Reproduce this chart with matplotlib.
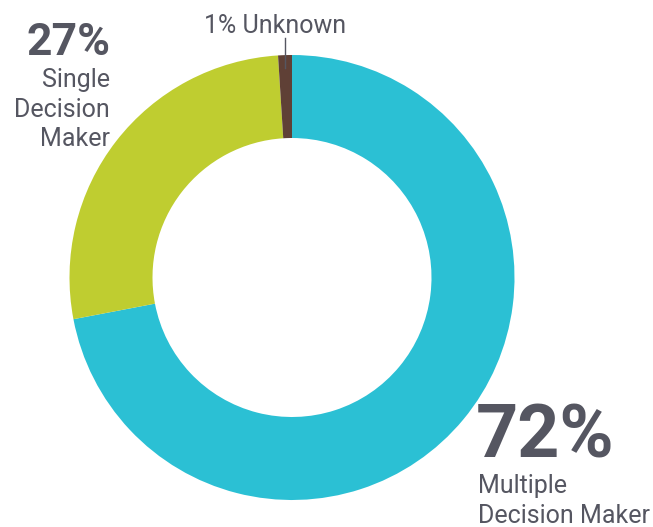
import matplotlib
matplotlib.use("Agg")
import matplotlib.pyplot as plt

categories = ["Multiple Decision Maker", "Single Decision Maker", "Unknown"]
values = [72, 27, 1]
colors = ["#2BC0D4", "#BFCD30", "#5F4036"]
text_color = "#555661"

W, H = 653, 527
fig = plt.figure(figsize=(W / 100, H / 100), dpi=100)
ax = fig.add_axes([0, 0, 1, 1])

cx, cy, r = 292, H - 277.5, 222.5
ax.pie(values, colors=colors, startangle=90, counterclock=False,
       center=(cx, cy), radius=r, frame=True,
       wedgeprops=dict(width=83, linewidth=0))
ax.set_xlim(0, W)
ax.set_ylim(0, H)
ax.set_aspect("equal")
ax.axis("off")

fam = ["Roboto", "DejaVu Sans"]
# 27% label
ax.text(110, H - 55, f"{values[1]}%", ha="right", va="baseline", fontsize=32,
        fontweight="bold", color=text_color, family=fam)
ax.text(110, H - 87, "Single", ha="right", va="baseline", fontsize=18,
        color=text_color, family=fam)
ax.text(110, H - 117, "Decision", ha="right", va="baseline", fontsize=18,
        color=text_color, family=fam)
ax.text(110, H - 146, "Maker", ha="right", va="baseline", fontsize=18,
        color=text_color, family=fam)

# 1% Unknown
ax.text(275, H - 33, f"{values[2]}% Unknown", ha="center", va="baseline",
        fontsize=18, color=text_color, family=fam)
ax.plot([285, 285], [H - 38, H - 68], color=text_color, lw=1)

# 72% label
ax.text(476, H - 457, f"{values[0]}%", ha="left", va="baseline", fontsize=53,
        fontweight="bold", color=text_color, family=fam)
ax.text(478, H - 493, "Multiple", ha="left", va="baseline", fontsize=18,
        color=text_color, family=fam)
ax.text(478, H - 523, "Decision Maker", ha="left", va="baseline", fontsize=18,
        color=text_color, family=fam)

fig.savefig("out.png", dpi=100)
